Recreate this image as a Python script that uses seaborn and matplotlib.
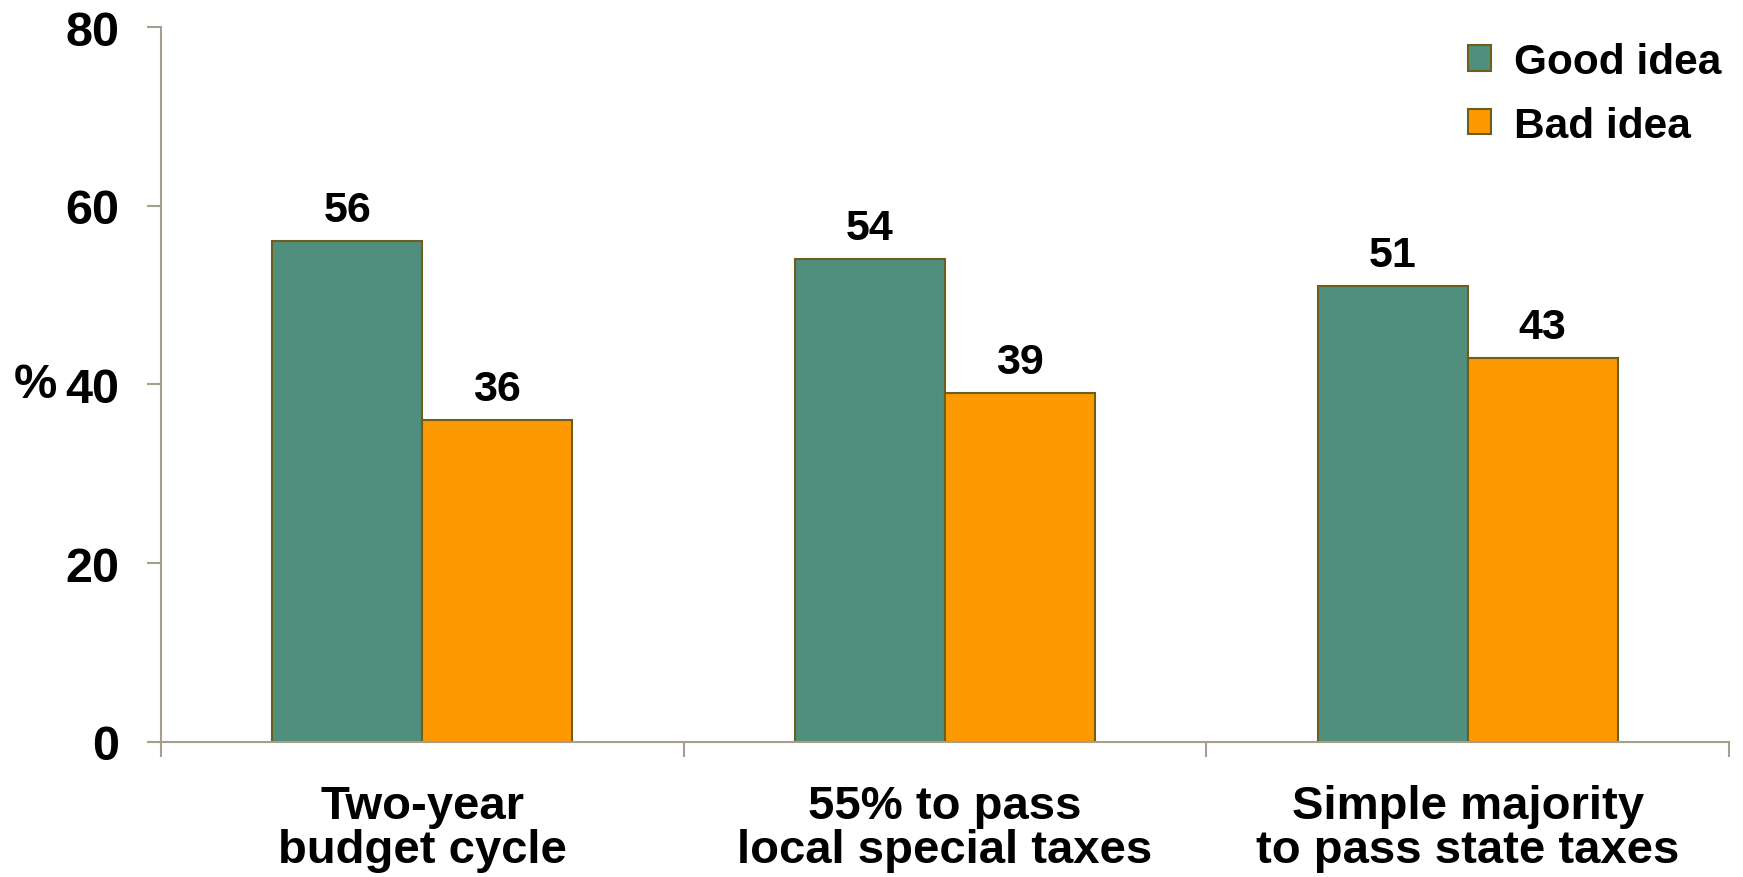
import pandas as pd
import matplotlib.pyplot as plt
import seaborn as sns

sns.set_style("ticks")
plt.rcParams["font.family"] = ["Liberation Sans", "DejaVu Sans"]
plt.rcParams["font.weight"] = "bold"
plt.rcParams["text.color"] = "black"
plt.rcParams["xtick.labelcolor"] = "black"
plt.rcParams["ytick.labelcolor"] = "black"

# Survey values (%)
categories = ["Two-year\nbudget cycle", "55% to pass\nlocal special taxes", "Simple majority\nto pass state taxes"]
responses = ["Good idea", "Bad idea"]
good_idea = [56, 54, 51]
bad_idea = [36, 39, 43]
y_ticks = [0, 20, 40, 60, 80]

colors = ["#508F7E", "#FF9900"]
edge_col = "#6E5E1E"
axis_col = "#A89E8C"

df = pd.DataFrame({
    "category": categories * 2,
    "response": [responses[0]] * 3 + [responses[1]] * 3,
    "pct": good_idea + bad_idea,
})

fig = plt.figure(figsize=(17.43, 8.78), dpi=100)
ax = fig.add_axes([0.0924, 0.1538, 0.8996, 0.8143])

sns.barplot(data=df, x="category", y="pct", hue="response", order=categories,
            hue_order=responses, palette=colors, width=0.574, edgecolor=edge_col,
            linewidth=1.5, ax=ax, errorbar=None, saturation=1)

for cont in ax.containers:
    ax.bar_label(cont, padding=8, fontsize=31, fontweight="bold", color="black")

ax.set_xlim(-0.5, 2.5)
ax.set_ylim(0, 80)
ax.set_yticks(y_ticks)
ax.tick_params(axis="y", left=True, labelsize=35, length=10, width=1.5, color=axis_col, pad=20)
ax.set_xticks([-0.5, 0.5, 1.5, 2.5], minor=True)
ax.tick_params(axis="x", which="major", bottom=True, labelsize=34, length=0, pad=30)
ax.tick_params(axis="x", which="minor", bottom=True, length=11, width=1.5, color=axis_col)
for lbl in ax.get_xticklabels():
    lbl.set_linespacing(1.0)
    lbl.set_fontweight("bold")
for lbl in ax.get_yticklabels():
    lbl.set_fontweight("bold")

ax.set_xlabel("")
ax.set_ylabel("%", rotation=0, fontsize=35, fontweight="bold", labelpad=6,
              ha="right", va="center", color="black")

sns.despine(ax=ax)
for side in ["left", "bottom"]:
    ax.spines[side].set_color(axis_col)
    ax.spines[side].set_linewidth(1.5)

ax.legend(loc="upper right", bbox_to_anchor=(1.006, 1.003), frameon=False,
          prop={"size": 30.5, "weight": "bold"}, handlelength=0.55, handleheight=0.55,
          handletextpad=0.55, labelspacing=0.56, borderaxespad=0.0)

fig.savefig("out.png", dpi=100)
